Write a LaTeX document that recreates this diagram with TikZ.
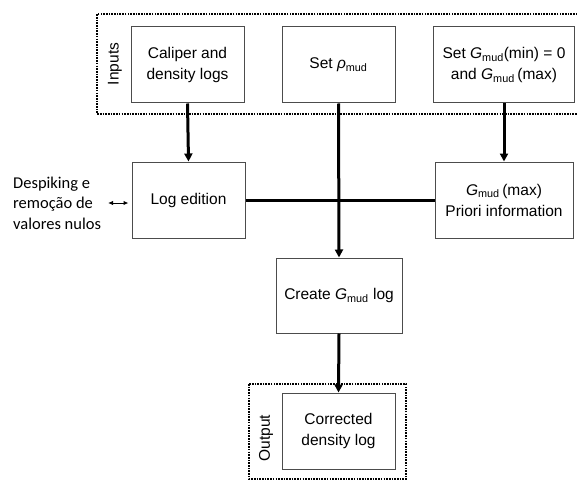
\documentclass[tikz,border=0pt]{standalone}
\usepackage{fontspec}
\setmainfont{Liberation Sans}
\newfontfamily\calib{Carlito}
\usetikzlibrary{arrows.meta}
\newcommand\Gmud{\textit{G}\textsubscript{mud}}
\begin{document}
\begin{tikzpicture}[x=1pt,y=-1pt,
  box/.style={draw=black!70,line width=1pt,align=center,font=\fontsize{15.5}{21}\selectfont,inner sep=2pt},
  conn/.style={line width=3pt,-{Triangle[length=8pt,width=8pt]}},
  plain/.style={line width=3pt},
  dotbox/.style={line width=2.8pt,dash pattern=on 1.6pt off 1.1pt},
  lbl/.style={rotate=90,font=\fontsize{15.5}{18}\selectfont}]
\useasboundingbox[fill=white] (0,0) rectangle (577,481);
% dotted group boxes
\draw[dotbox] (580,14) -- (97,14) -- (97,114) -- (580,114);
\draw[dotbox] (249,384) rectangle (406,479);
\node[lbl] (inlbl) at (115,64) {Inputs};
\node[lbl] (outlbl) at (266,438) {Output};
% boxes
\node[box,minimum width=113pt,minimum height=76pt] (cal) at (187.5,65) {Caliper and\\density logs};
\node[box,minimum width=113pt,minimum height=76pt] (rho) at (338.5,65) {Set \textit{ρ}\textsubscript{mud}};
\node[box,minimum width=141pt,minimum height=76pt] (setg) at (504,65) {Set \Gmud(min) = 0\\and \Gmud\,(max)};
\node[box,minimum width=113pt,minimum height=76pt] (log) at (188.5,200) {Log edition};
\node[box,minimum width=138pt,minimum height=76pt] (gmax) at (504,200) {\Gmud\,(max)\\Priori information};
\node[box,minimum width=126pt,minimum height=75pt] (create) at (339,295.5) {Create \Gmud\ log};
\node[box,minimum width=113pt,minimum height=76pt] (corr) at (338.5,431) {Corrected\\density log};
% side text
\node[align=left,anchor=west,font=\calib\fontsize{16.5}{20.5}\selectfont,inner sep=0pt] (desp) at (13,203) {Despiking e\\remoção de\\valores nulos};
\coordinate (da) at (108,203);
\draw[line width=1pt,{Latex[length=5pt,width=4.5pt]}-{Latex[length=5pt,width=4.5pt]}] (da) -- ([xshift=-3pt]log.west |- da);
% connectors
\draw[conn] (cal.south) -- (log.north);
\draw[conn] (setg.south) -- (gmax.north);
\draw[conn] (rho.south) -- (create.north);
\draw[plain] (log.east) -- (gmax.west);
\draw[conn] (create.south) -- (corr.north);
\end{tikzpicture}
\end{document}
